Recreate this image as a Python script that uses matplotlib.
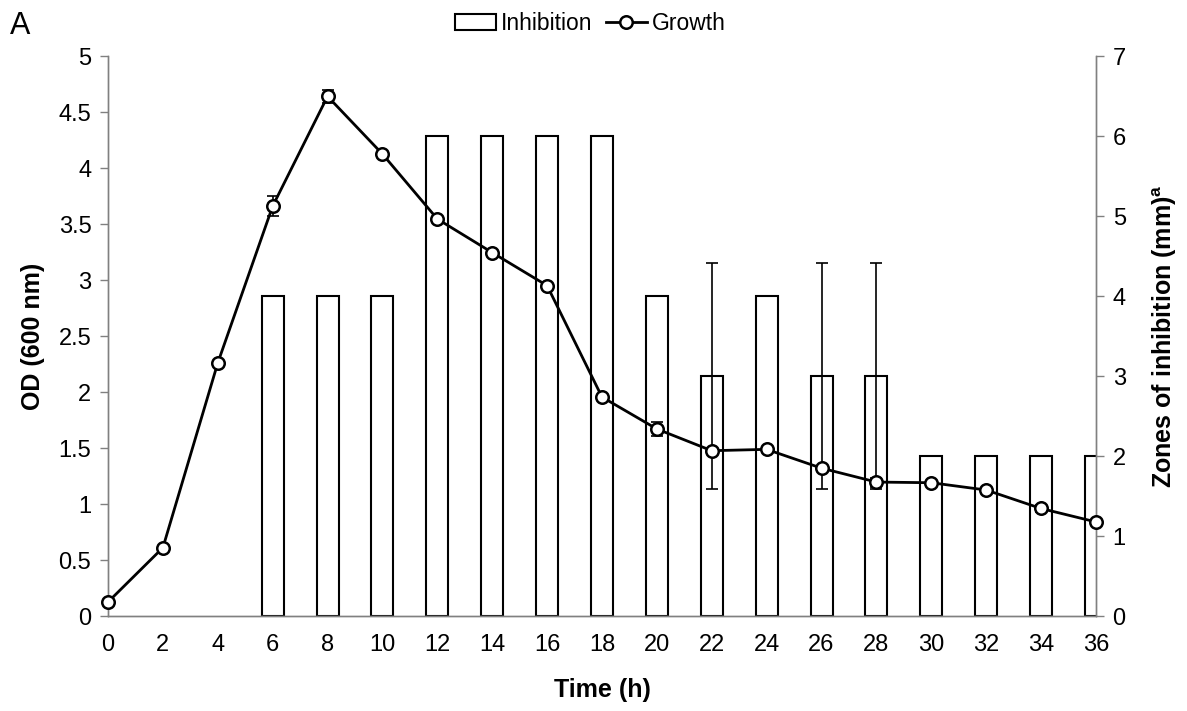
import numpy as np
import matplotlib
matplotlib.use("Agg")
import matplotlib.pyplot as plt

plt.rcParams.update({
    "font.family": ["Liberation Sans", "DejaVu Sans"],
    "font.size": 17,
    "axes.labelsize": 18,
    "xtick.labelsize": 17,
    "ytick.labelsize": 17,
    "legend.fontsize": 16.5,
})

# sampling times (h)
TIME = [0, 2, 4, 6, 8, 10, 12, 14, 16, 18, 20, 22, 24, 26, 28, 30, 32, 34, 36]

# OD600 growth curve with standard deviations
GROWTH = [0.125, 0.61, 2.26, 3.66, 4.64, 4.125, 3.545, 3.245, 2.95, 1.955,
          1.67, 1.476, 1.488, 1.32, 1.196, 1.19, 1.125, 0.96, 0.84]
GROWTH_ERR = [0, 0, 0, 0.09, 0.06, 0, 0, 0, 0, 0,
              0.06, 0, 0, 0, 0.04, 0, 0, 0.03, 0]

# zones of inhibition (mm) with standard deviations
INHIBITION = [0, 0, 0, 4, 4, 4, 6, 6, 6, 6, 4, 3, 4, 3, 3, 2, 2, 2, 2]
INHIBITION_ERR = [0, 0, 0, 0, 0, 0, 0, 0, 0, 0, 0, 1.41, 0, 1.41, 1.41, 0, 0, 0, 0]

SPINE_GRAY = "#808080"


def main():
    fig = plt.figure(figsize=(11.87, 7.11), dpi=100)
    ax = fig.add_axes([0.091, 0.1336, 0.8323, 0.7876])
    ax2 = ax.twinx()

    t = np.array(TIME)
    inh = np.array(INHIBITION)
    inh_err = np.array(INHIBITION_ERR)
    # no zone was measured before 6 h, so those bars are left out
    measured = inh > 0
    bars = ax2.bar(t[measured], inh[measured], width=0.8, color="white",
                   edgecolor="black", linewidth=1.5, label="Inhibition")
    has_err = inh_err > 0
    ax2.errorbar(t[has_err], inh[has_err], yerr=inh_err[has_err], fmt="none",
                 ecolor="black", elinewidth=1.2, capsize=4, capthick=1.2)

    g = np.array(GROWTH)
    g_err = np.array(GROWTH_ERR)
    has_gerr = g_err > 0
    ax.errorbar(t[has_gerr], g[has_gerr], yerr=g_err[has_gerr], fmt="none",
                ecolor="black", elinewidth=1.2, capsize=4, capthick=1.2, zorder=3)
    line, = ax.plot(t, g, color="black", linewidth=2, marker="o", markersize=9,
                    markerfacecolor="white", markeredgecolor="black",
                    markeredgewidth=1.8, label="Growth", zorder=4, clip_on=False)

    # keep the growth curve above the bars of the twin axes
    ax.set_zorder(ax2.get_zorder() + 1)
    ax.patch.set_visible(False)

    ax.set_xlim(0, 36)
    ax.set_ylim(0, 5)
    ax2.set_ylim(0, 7)
    ax.set_xticks(np.arange(0, 37, 2))
    ax.set_yticks(np.arange(0, 5.01, 0.5))
    ax.set_yticklabels(["0", "0.5", "1", "1.5", "2", "2.5", "3", "3.5", "4", "4.5", "5"])
    ax2.set_yticks(np.arange(0, 8, 1))

    for a in (ax, ax2):
        for side in ("left", "right", "bottom"):
            a.spines[side].set_color(SPINE_GRAY)
            a.spines[side].set_linewidth(1)
        a.spines["top"].set_visible(False)
    ax.tick_params(axis="x", length=0, pad=13)
    ax.tick_params(axis="y", direction="out", length=6, width=1, color=SPINE_GRAY, pad=6)
    ax2.tick_params(axis="y", direction="out", length=6, width=1, color=SPINE_GRAY, pad=6)

    ax.set_xlabel("Time (h)", fontweight="bold", labelpad=16)
    ax.set_ylabel("OD (600 nm)", fontweight="bold", labelpad=10)
    ax2.set_ylabel("Zones of inhibition (mm)$^\\mathregular{a}$", fontweight="bold",
                   labelpad=18)

    fig.legend([bars, line], ["Inhibition", "Growth"], loc="upper center",
               bbox_to_anchor=(0.497, 1.012), ncol=2, frameon=False,
               handlelength=1.8, handletextpad=0.2, columnspacing=0.6)
    fig.text(0.008, 0.963, "A", fontsize=22, va="center", ha="left")

    fig.savefig("out.png", dpi=100)
    plt.close(fig)


if __name__ == "__main__":
    main()
